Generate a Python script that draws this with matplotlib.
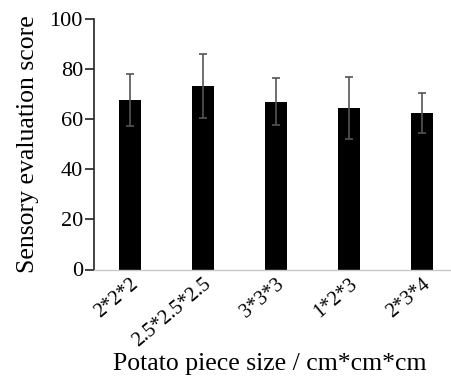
import numpy as np
import matplotlib.pyplot as plt

# sensory scores by potato piece size (mean and standard deviation)
sizes = ["2*2*2", "2.5*2.5*2.5", "3*3*3", "1*2*3", "2*3*4"]
score_mean = [67.7, 73.3, 67.0, 64.4, 62.4]
score_sd = [10.4, 12.8, 9.4, 12.4, 8.1]

plt.rcParams["font.family"] = ["Liberation Serif", "DejaVu Serif"]

fig = plt.figure(figsize=(4.52, 3.76), dpi=100)
ax = fig.add_axes([94 / 452, 1 - 269.5 / 376, 358 / 452, 250.5 / 376])

x = np.arange(len(sizes))
ax.bar(x, score_mean, width=0.3, color="black", zorder=2)
ax.errorbar(x, score_mean, yerr=score_sd, fmt="none", ecolor="#555555",
            elinewidth=1.2, capsize=3, capthick=1.2, zorder=3)

ax.set_xlim(-0.49, 4.41)
ax.set_ylim(0, 100)
ax.set_yticks([0, 20, 40, 60, 80, 100])

ax.spines["top"].set_visible(False)
ax.spines["right"].set_visible(False)
ax.spines["left"].set_color("#222222")
ax.spines["left"].set_linewidth(1.2)
ax.spines["bottom"].set_color("#c8c8c8")
ax.spines["bottom"].set_linewidth(1.0)

ax.tick_params(axis="y", direction="out", length=6.5, width=1.2, color="#222222",
               labelsize=16, pad=1.5)
ax.tick_params(axis="x", length=0, labelsize=14.5, pad=4)
ax.set_xticks(x)
ax.set_xticklabels(sizes, rotation=40, ha="right", rotation_mode="anchor")

ax.set_ylabel("Sensory evaluation score", fontsize=18.5)
ax.yaxis.set_label_coords(-0.155, 0.5)
ax.set_xlabel("Potato piece size / cm*cm*cm", fontsize=18.5)
ax.xaxis.set_label_coords(0.49, -0.333)

fig.savefig("out.png", dpi=100)
